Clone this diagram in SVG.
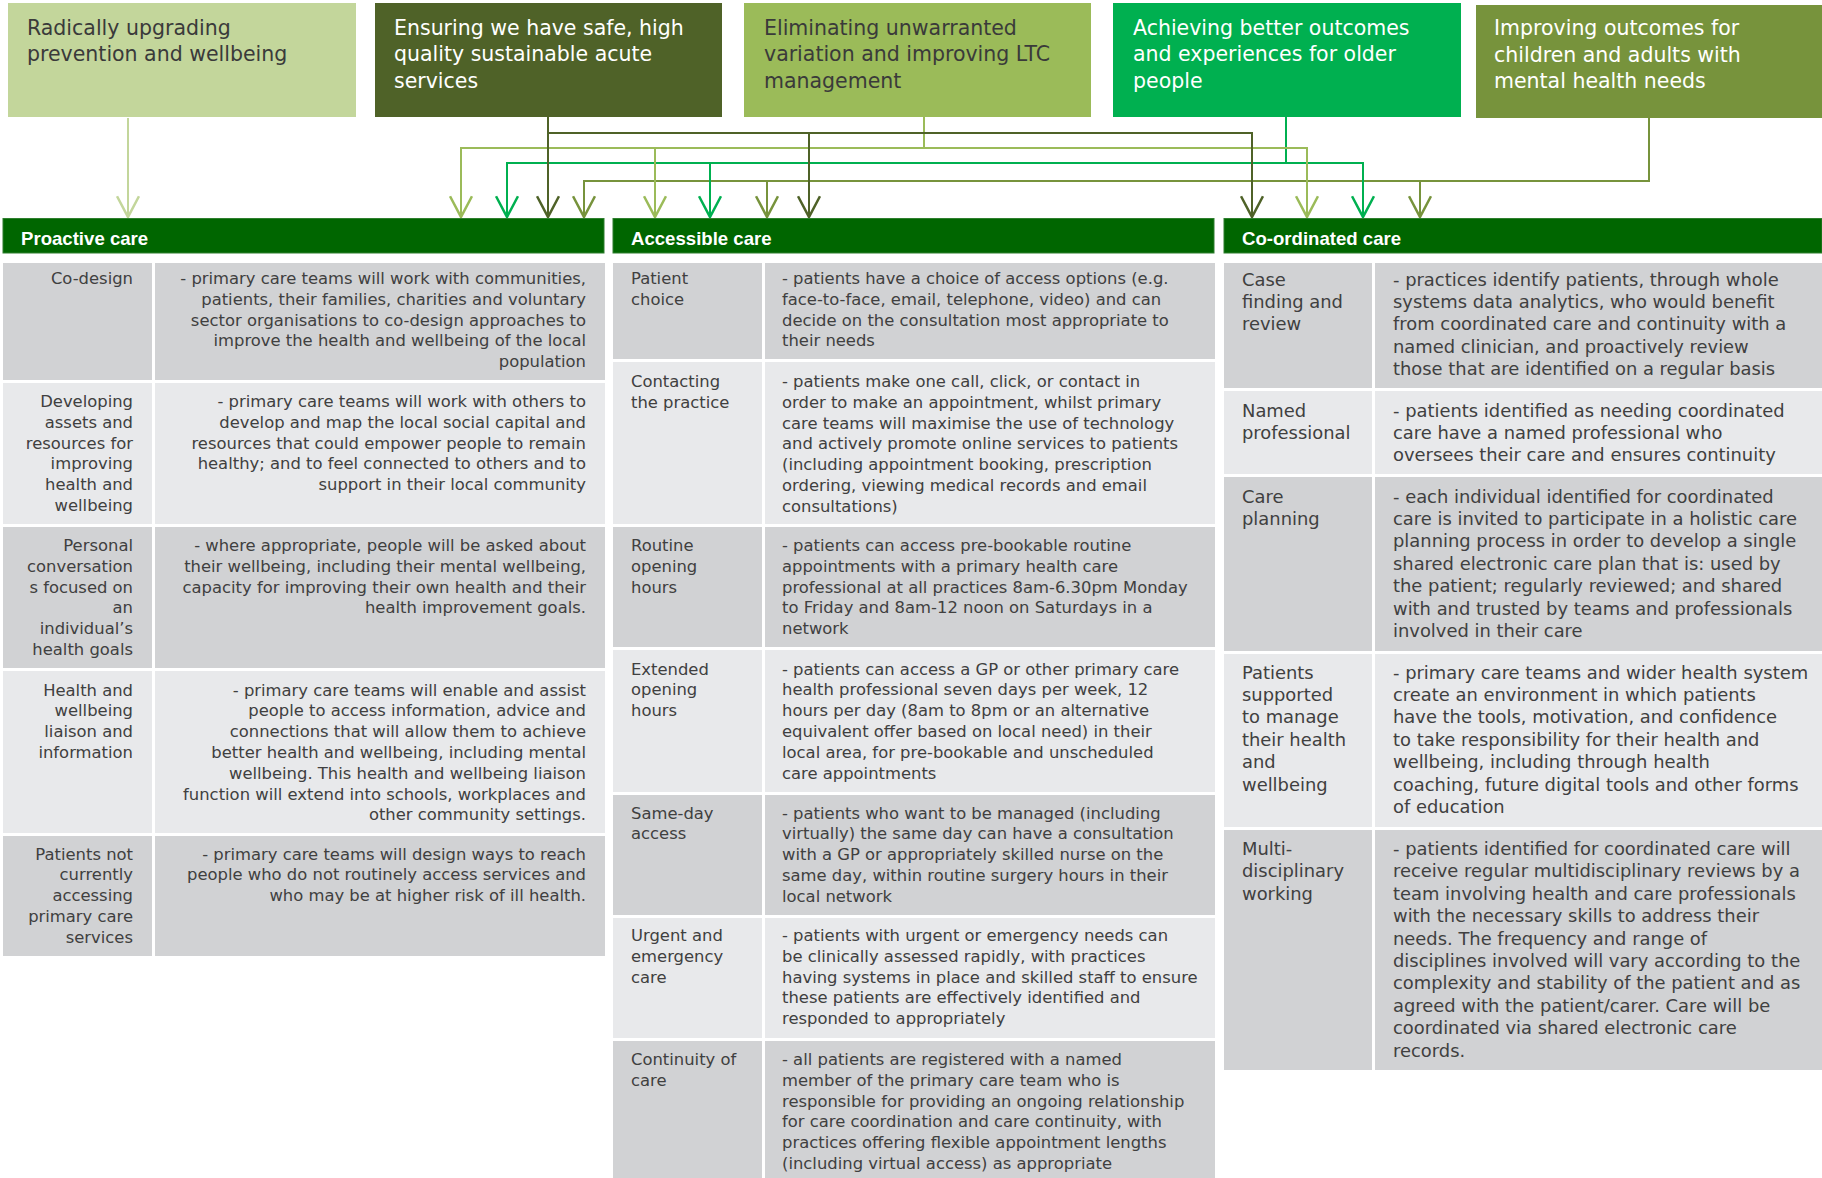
<svg xmlns="http://www.w3.org/2000/svg" width="1822" height="1178" viewBox="0 0 1822 1178">
<style>
.t{font-family:"DejaVu Sans",sans-serif;font-size:16.4px;fill:#404040}
.tc{font-size:17.9px}
.r{text-anchor:end}
.hd{font-family:"Liberation Sans",Arial,sans-serif;font-weight:bold;font-size:18.6px;fill:#ffffff}
.bx{font-family:"DejaVu Sans",sans-serif;font-size:20.5px}
.w{fill:#ffffff}.d{fill:#3a3a3a}
.dk{fill:#d1d2d4}.lt{fill:#e8e9eb}
.bar{fill:#006600;stroke:#2f7f2f;stroke-width:1}
.c{fill:none;stroke-width:2}
.h{stroke-linecap:square}
</style>
<defs>
<marker id="a1" markerUnits="userSpaceOnUse" markerWidth="30" markerHeight="30" viewBox="-22 -13 26 26" refX="0" refY="0" orient="auto" overflow="visible"><path d="M-18,-9.5 L0,0 L-18,9.5" fill="none" stroke="#c3d69b" stroke-width="2.2"/></marker>
<marker id="a2" markerUnits="userSpaceOnUse" markerWidth="30" markerHeight="30" viewBox="-22 -13 26 26" refX="0" refY="0" orient="auto" overflow="visible"><path d="M-18,-9.5 L0,0 L-18,9.5" fill="none" stroke="#4f6228" stroke-width="2.2"/></marker>
<marker id="a3" markerUnits="userSpaceOnUse" markerWidth="30" markerHeight="30" viewBox="-22 -13 26 26" refX="0" refY="0" orient="auto" overflow="visible"><path d="M-18,-9.5 L0,0 L-18,9.5" fill="none" stroke="#9bbb59" stroke-width="2.2"/></marker>
<marker id="a4" markerUnits="userSpaceOnUse" markerWidth="30" markerHeight="30" viewBox="-22 -13 26 26" refX="0" refY="0" orient="auto" overflow="visible"><path d="M-18,-9.5 L0,0 L-18,9.5" fill="none" stroke="#00b050" stroke-width="2.2"/></marker>
<marker id="a5" markerUnits="userSpaceOnUse" markerWidth="30" markerHeight="30" viewBox="-22 -13 26 26" refX="0" refY="0" orient="auto" overflow="visible"><path d="M-18,-9.5 L0,0 L-18,9.5" fill="none" stroke="#77933c" stroke-width="2.2"/></marker>
</defs>
<rect x="0" y="0" width="1822" height="1178" fill="#ffffff"/>

<g id="goal1">
<rect x="8" y="3" width="348" height="114" fill="#c3d69b"/>
<text class="bx d" x="27" y="34.5">Radically upgrading<tspan x="27" dy="26.5">prevention and wellbeing</tspan></text>
</g>
<g id="goal2">
<rect x="375" y="3" width="347" height="114" fill="#4f6228"/>
<text class="bx w" x="394" y="34.5">Ensuring we have safe, high<tspan x="394" dy="26.5">quality sustainable acute</tspan><tspan x="394" dy="26.5">services</tspan></text>
</g>
<g id="goal3">
<rect x="744" y="3" width="347" height="114" fill="#9bbb59"/>
<text class="bx d" x="764" y="34.5">Eliminating unwarranted<tspan x="764" dy="26.5">variation and improving LTC</tspan><tspan x="764" dy="26.5">management</tspan></text>
</g>
<g id="goal4">
<rect x="1113" y="3" width="348" height="114" fill="#00b050"/>
<text class="bx w" x="1133" y="34.5">Achieving better outcomes<tspan x="1133" dy="26.5">and experiences for older</tspan><tspan x="1133" dy="26.5">people</tspan></text>
</g>
<g id="goal5">
<rect x="1476" y="5" width="346" height="113" fill="#77933c"/>
<text class="bx w" x="1494" y="35">Improving outcomes for<tspan x="1494" dy="26.5">children and adults with</tspan><tspan x="1494" dy="26.5">mental health needs</tspan></text>
</g>

<g id="connectors">
<g stroke="#77933c">
<path class="c" d="M1649,118 V181"/>
<path class="c h" d="M584,181 H1649"/>
<path class="c" d="M584,181 V217" marker-end="url(#a5)"/>
<path class="c" d="M767,181 V217" marker-end="url(#a5)"/>
<path class="c" d="M1420,181 V217" marker-end="url(#a5)"/>
</g>
<g stroke="#00b050">
<path class="c" d="M1286,117 V163"/>
<path class="c h" d="M507,163 H1363"/>
<path class="c" d="M507,163 V217" marker-end="url(#a4)"/>
<path class="c" d="M710,163 V217" marker-end="url(#a4)"/>
<path class="c" d="M1363,163 V217" marker-end="url(#a4)"/>
</g>
<g stroke="#9bbb59">
<path class="c" d="M924,117 V148"/>
<path class="c h" d="M461,148 H1307"/>
<path class="c" d="M461,148 V217" marker-end="url(#a3)"/>
<path class="c" d="M655,148 V217" marker-end="url(#a3)"/>
<path class="c" d="M1307,148 V217" marker-end="url(#a3)"/>
</g>
<g stroke="#4f6228">
<path class="c h" d="M548,133 H1252"/>
<path class="c" d="M548,117 V217" marker-end="url(#a2)"/>
<path class="c" d="M809,133 V217" marker-end="url(#a2)"/>
<path class="c" d="M1252,133 V217" marker-end="url(#a2)"/>
</g>
<path class="c" stroke="#c3d69b" d="M128,118 V217" marker-end="url(#a1)"/>
</g>

<g id="proactive">
<rect class="bar" x="3" y="218.5" width="601" height="34.5"/>
<text class="hd" x="21" y="245">Proactive care</text>
<g id="p1">
<rect class="dk" x="3" y="263" width="149" height="117"/><rect class="dk" x="155" y="263" width="450" height="117"/>
<text class="t r" x="133" y="284">Co-design</text>
<text class="t r" x="586" y="284">- primary care teams will work with communities,<tspan x="586" dy="20.8">patients, their families, charities and voluntary</tspan><tspan x="586" dy="20.8">sector organisations to co-design approaches to</tspan><tspan x="586" dy="20.8">improve the health and wellbeing of the local</tspan><tspan x="586" dy="20.8">population</tspan></text>
</g>
<g id="p2">
<rect class="lt" x="3" y="383" width="149" height="141"/><rect class="lt" x="155" y="383" width="450" height="141"/>
<text class="t r" x="133" y="407">Developing<tspan x="133" dy="20.8">assets and</tspan><tspan x="133" dy="20.8">resources for</tspan><tspan x="133" dy="20.8">improving</tspan><tspan x="133" dy="20.8">health and</tspan><tspan x="133" dy="20.8">wellbeing</tspan></text>
<text class="t r" x="586" y="407">- primary care teams will work with others to<tspan x="586" dy="20.8">develop and map the local social capital and</tspan><tspan x="586" dy="20.8">resources that could empower people to remain</tspan><tspan x="586" dy="20.8">healthy; and to feel connected to others and to</tspan><tspan x="586" dy="20.8">support in their local community</tspan></text>
</g>
<g id="p3">
<rect class="dk" x="3" y="527" width="149" height="141"/><rect class="dk" x="155" y="527" width="450" height="141"/>
<text class="t r" x="133" y="551">Personal<tspan x="133" dy="20.8">conversation</tspan><tspan x="133" dy="20.8">s focused on</tspan><tspan x="133" dy="20.8">an</tspan><tspan x="133" dy="20.8">individual’s</tspan><tspan x="133" dy="20.8">health goals</tspan></text>
<text class="t r" x="586" y="551">- where appropriate, people will be asked about<tspan x="586" dy="20.8">their wellbeing, including their mental wellbeing,</tspan><tspan x="586" dy="20.8">capacity for improving their own health and their</tspan><tspan x="586" dy="20.8">health improvement goals.</tspan></text>
</g>
<g id="p4">
<rect class="lt" x="3" y="671" width="149" height="162"/><rect class="lt" x="155" y="671" width="450" height="162"/>
<text class="t r" x="133" y="695.5">Health and<tspan x="133" dy="20.8">wellbeing</tspan><tspan x="133" dy="20.8">liaison and</tspan><tspan x="133" dy="20.8">information</tspan></text>
<text class="t r" x="586" y="695.5">- primary care teams will enable and assist<tspan x="586" dy="20.8">people to access information, advice and</tspan><tspan x="586" dy="20.8">connections that will allow them to achieve</tspan><tspan x="586" dy="20.8">better health and wellbeing, including mental</tspan><tspan x="586" dy="20.8">wellbeing. This health and wellbeing liaison</tspan><tspan x="586" dy="20.8">function will extend into schools, workplaces and</tspan><tspan x="586" dy="20.8">other community settings.</tspan></text>
</g>
<g id="p5">
<rect class="dk" x="3" y="836" width="149" height="120"/><rect class="dk" x="155" y="836" width="450" height="120"/>
<text class="t r" x="133" y="859.5">Patients not<tspan x="133" dy="20.8">currently</tspan><tspan x="133" dy="20.8">accessing</tspan><tspan x="133" dy="20.8">primary care</tspan><tspan x="133" dy="20.8">services</tspan></text>
<text class="t r" x="586" y="859.5">- primary care teams will design ways to reach<tspan x="586" dy="20.8">people who do not routinely access services and</tspan><tspan x="586" dy="20.8">who may be at higher risk of ill health.</tspan></text>
</g>
</g>

<g id="accessible">
<rect class="bar" x="613" y="218.5" width="601" height="34.5"/>
<text class="hd" x="631" y="245">Accessible care</text>
<g id="a1r">
<rect class="dk" x="613" y="263" width="149" height="96"/><rect class="dk" x="765" y="263" width="450" height="96"/>
<text class="t" x="631" y="284">Patient<tspan x="631" dy="20.8">choice</tspan></text>
<text class="t" x="782" y="284">- patients have a choice of access options (e.g.<tspan x="782" dy="20.8">face-to-face, email, telephone, video) and can</tspan><tspan x="782" dy="20.8">decide on the consultation most appropriate to</tspan><tspan x="782" dy="20.8">their needs</tspan></text>
</g>
<g id="a2r">
<rect class="lt" x="613" y="362" width="149" height="162"/><rect class="lt" x="765" y="362" width="450" height="162"/>
<text class="t" x="631" y="387">Contacting<tspan x="631" dy="20.8">the practice</tspan></text>
<text class="t" x="782" y="387">- patients make one call, click, or contact in<tspan x="782" dy="20.8">order to make an appointment, whilst primary</tspan><tspan x="782" dy="20.8">care teams will maximise the use of technology</tspan><tspan x="782" dy="20.8">and actively promote online services to patients</tspan><tspan x="782" dy="20.8">(including appointment booking, prescription</tspan><tspan x="782" dy="20.8">ordering, viewing medical records and email</tspan><tspan x="782" dy="20.8">consultations)</tspan></text>
</g>
<g id="a3r">
<rect class="dk" x="613" y="527" width="149" height="120"/><rect class="dk" x="765" y="527" width="450" height="120"/>
<text class="t" x="631" y="551">Routine<tspan x="631" dy="20.8">opening</tspan><tspan x="631" dy="20.8">hours</tspan></text>
<text class="t" x="782" y="551">- patients can access pre-bookable routine<tspan x="782" dy="20.8">appointments with a primary health care</tspan><tspan x="782" dy="20.8">professional at all practices 8am-6.30pm Monday</tspan><tspan x="782" dy="20.8">to Friday and 8am-12 noon on Saturdays in a</tspan><tspan x="782" dy="20.8">network</tspan></text>
</g>
<g id="a4r">
<rect class="lt" x="613" y="650" width="149" height="142"/><rect class="lt" x="765" y="650" width="450" height="142"/>
<text class="t" x="631" y="674.5">Extended<tspan x="631" dy="20.8">opening</tspan><tspan x="631" dy="20.8">hours</tspan></text>
<text class="t" x="782" y="674.5">- patients can access a GP or other primary care<tspan x="782" dy="20.8">health professional seven days per week, 12</tspan><tspan x="782" dy="20.8">hours per day (8am to 8pm or an alternative</tspan><tspan x="782" dy="20.8">equivalent offer based on local need) in their</tspan><tspan x="782" dy="20.8">local area, for pre-bookable and unscheduled</tspan><tspan x="782" dy="20.8">care appointments</tspan></text>
</g>
<g id="a5r">
<rect class="dk" x="613" y="795" width="149" height="120"/><rect class="dk" x="765" y="795" width="450" height="120"/>
<text class="t" x="631" y="818.5">Same-day<tspan x="631" dy="20.8">access</tspan></text>
<text class="t" x="782" y="818.5">- patients who want to be managed (including<tspan x="782" dy="20.8">virtually) the same day can have a consultation</tspan><tspan x="782" dy="20.8">with a GP or appropriately skilled nurse on the</tspan><tspan x="782" dy="20.8">same day, within routine surgery hours in their</tspan><tspan x="782" dy="20.8">local network</tspan></text>
</g>
<g id="a6r">
<rect class="lt" x="613" y="918" width="149" height="120"/><rect class="lt" x="765" y="918" width="450" height="120"/>
<text class="t" x="631" y="941">Urgent and<tspan x="631" dy="20.8">emergency</tspan><tspan x="631" dy="20.8">care</tspan></text>
<text class="t" x="782" y="941">- patients with urgent or emergency needs can<tspan x="782" dy="20.8">be clinically assessed rapidly, with practices</tspan><tspan x="782" dy="20.8">having systems in place and skilled staff to ensure</tspan><tspan x="782" dy="20.8">these patients are effectively identified and</tspan><tspan x="782" dy="20.8">responded to appropriately</tspan></text>
</g>
<g id="a7r">
<rect class="dk" x="613" y="1041" width="149" height="137"/><rect class="dk" x="765" y="1041" width="450" height="137"/>
<text class="t" x="631" y="1065">Continuity of<tspan x="631" dy="20.8">care</tspan></text>
<text class="t" x="782" y="1065">- all patients are registered with a named<tspan x="782" dy="20.8">member of the primary care team who is</tspan><tspan x="782" dy="20.8">responsible for providing an ongoing relationship</tspan><tspan x="782" dy="20.8">for care coordination and care continuity, with</tspan><tspan x="782" dy="20.8">practices offering flexible appointment lengths</tspan><tspan x="782" dy="20.8">(including virtual access) as appropriate</tspan></text>
</g>
</g>

<g id="coordinated">
<rect class="bar" x="1224" y="218.5" width="598" height="34.5"/>
<text class="hd" x="1242" y="245">Co-ordinated care</text>
<g id="c1">
<rect class="dk" x="1224" y="263" width="148" height="125"/><rect class="dk" x="1375" y="263" width="447" height="125"/>
<text class="t tc" x="1242" y="285.5">Case<tspan x="1242" dy="22.4">finding and</tspan><tspan x="1242" dy="22.4">review</tspan></text>
<text class="t tc" x="1393" y="285.5">- practices identify patients, through whole<tspan x="1393" dy="22.4">systems data analytics, who would benefit</tspan><tspan x="1393" dy="22.4">from coordinated care and continuity with a</tspan><tspan x="1393" dy="22.4">named clinician, and proactively review</tspan><tspan x="1393" dy="22.4">those that are identified on a regular basis</tspan></text>
</g>
<g id="c2">
<rect class="lt" x="1224" y="391" width="148" height="83"/><rect class="lt" x="1375" y="391" width="447" height="83"/>
<text class="t tc" x="1242" y="416.5">Named<tspan x="1242" dy="22.4">professional</tspan></text>
<text class="t tc" x="1393" y="416.5">- patients identified as needing coordinated<tspan x="1393" dy="22.4">care have a named professional who</tspan><tspan x="1393" dy="22.4">oversees their care and ensures continuity</tspan></text>
</g>
<g id="c3">
<rect class="dk" x="1224" y="477" width="148" height="174"/><rect class="dk" x="1375" y="477" width="447" height="174"/>
<text class="t tc" x="1242" y="502.5">Care<tspan x="1242" dy="22.4">planning</tspan></text>
<text class="t tc" x="1393" y="502.5">- each individual identified for coordinated<tspan x="1393" dy="22.4">care is invited to participate in a holistic care</tspan><tspan x="1393" dy="22.4">planning process in order to develop a single</tspan><tspan x="1393" dy="22.4">shared electronic care plan that is: used by</tspan><tspan x="1393" dy="22.4">the patient; regularly reviewed; and shared</tspan><tspan x="1393" dy="22.4">with and trusted by teams and professionals</tspan><tspan x="1393" dy="22.4">involved in their care</tspan></text>
</g>
<g id="c4">
<rect class="lt" x="1224" y="654" width="148" height="173"/><rect class="lt" x="1375" y="654" width="447" height="173"/>
<text class="t tc" x="1242" y="678.5">Patients<tspan x="1242" dy="22.4">supported</tspan><tspan x="1242" dy="22.4">to manage</tspan><tspan x="1242" dy="22.4">their health</tspan><tspan x="1242" dy="22.4">and</tspan><tspan x="1242" dy="22.4">wellbeing</tspan></text>
<text class="t tc" x="1393" y="678.5">- primary care teams and wider health system<tspan x="1393" dy="22.4">create an environment in which patients</tspan><tspan x="1393" dy="22.4">have the tools, motivation, and confidence</tspan><tspan x="1393" dy="22.4">to take responsibility for their health and</tspan><tspan x="1393" dy="22.4">wellbeing, including through health</tspan><tspan x="1393" dy="22.4">coaching, future digital tools and other forms</tspan><tspan x="1393" dy="22.4">of education</tspan></text>
</g>
<g id="c5">
<rect class="dk" x="1224" y="830" width="148" height="240"/><rect class="dk" x="1375" y="830" width="447" height="240"/>
<text class="t tc" x="1242" y="855">Multi-<tspan x="1242" dy="22.4">disciplinary</tspan><tspan x="1242" dy="22.4">working</tspan></text>
<text class="t tc" x="1393" y="855">- patients identified for coordinated care will<tspan x="1393" dy="22.4">receive regular multidisciplinary reviews by a</tspan><tspan x="1393" dy="22.4">team involving health and care professionals</tspan><tspan x="1393" dy="22.4">with the necessary skills to address their</tspan><tspan x="1393" dy="22.4">needs. The frequency and range of</tspan><tspan x="1393" dy="22.4">disciplines involved will vary according to the</tspan><tspan x="1393" dy="22.4">complexity and stability of the patient and as</tspan><tspan x="1393" dy="22.4">agreed with the patient/carer. Care will be</tspan><tspan x="1393" dy="22.4">coordinated via shared electronic care</tspan><tspan x="1393" dy="22.4">records.</tspan></text>
</g>
</g>
</svg>
